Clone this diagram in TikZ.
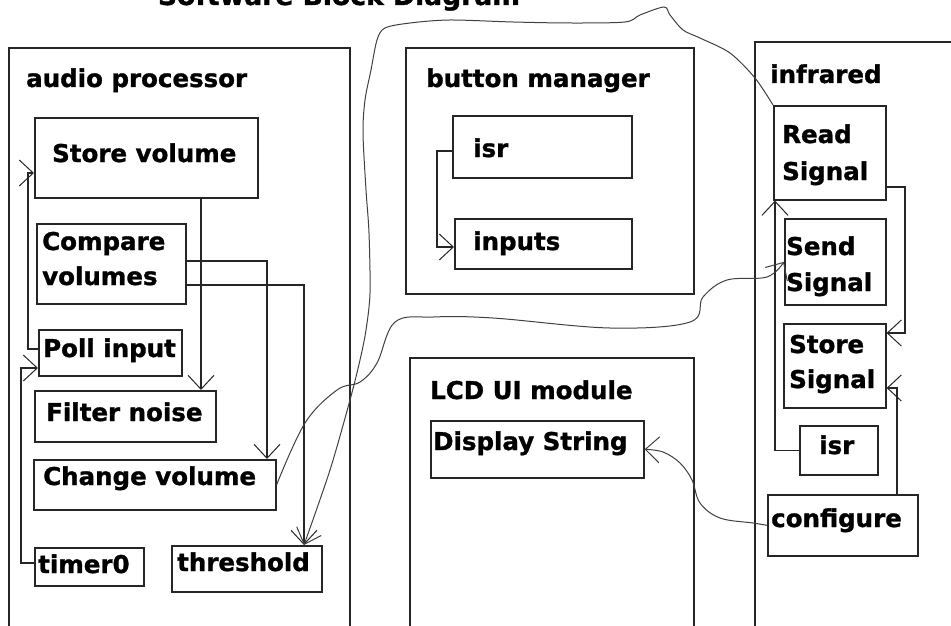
\documentclass[tikz,border=0pt]{standalone}
\usepackage{fontspec}
\setmainfont{DejaVu Sans}
\newfontfamily\heavyfont{DejaVu Sans Bold}[FakeBold=1.2]
\usetikzlibrary{arrows.meta}
\newcommand\lbfont{\fontsize{24.5}{30}\selectfont\heavyfont}
\tikzset{
  box/.style={draw=black!85, line width=1.6pt, inner sep=0pt, anchor=north west},
  lbl/.style={font=\lbfont, anchor=base west, inner sep=0pt, text=black},
  arr/.style={draw=black!85, line width=1.4pt, -{Straight Barb[length=14pt,width=26pt,line width=1pt]}},
  carr/.style={draw=black!75, line width=1pt, -{Straight Barb[length=14pt,width=26pt,line width=1pt]}}
}
\begin{document}
\begin{tikzpicture}[x=1pt,y=-1pt]
\useasboundingbox (0,0) rectangle (951,626);
% title (cut off at the top, as in the reference)
\node[font=\fontsize{26.6}{30}\selectfont\heavyfont, anchor=base, inner sep=0pt] (title) at (339,5) {Software Block Diagram};

% audio processor
\node[box, minimum width=341pt, minimum height=600pt] (ap) at (8,47) {};
\node[lbl] (apt) at (26,87) {audio processor};
\node[box, minimum width=223pt, minimum height=80pt] (sv) at (34,117) {};
\node[lbl] (svt) at (52,162) {Store volume};
\node[box, minimum width=149pt, minimum height=80pt] (cv) at (36,223) {};
\node[lbl] (cvt1) at (42,250) {Compare};
\node[lbl] (cvt2) at (42,285) {volumes};
\node[box, minimum width=143pt, minimum height=46pt] (pi) at (38,329) {};
\node[lbl] (pit) at (43,357) {Poll input};
\node[box, minimum width=181pt, minimum height=51pt] (fn) at (34,390) {};
\node[lbl] (fnt) at (46,421) {Filter noise};
\node[box, minimum width=242pt, minimum height=50pt] (chv) at (33,459) {};
\node[lbl] (chvt) at (43,485) {Change volume};
\node[box, minimum width=109pt, minimum height=38pt] (t0) at (34,547) {};
\node[lbl] (t0t) at (38,573) {timer0};
\node[box, minimum width=150pt, minimum height=46pt] (th) at (171,545) {};
\node[lbl] (tht) at (177,571) {threshold};

% button manager
\node[box, minimum width=288pt, minimum height=246pt] (bm) at (405,47) {};
\node[lbl] (bmt) at (426,87) {button manager};
\node[box, minimum width=179pt, minimum height=62pt] (bisr) at (452,115) {};
\node[lbl] (bisrt) at (473,157) {isr};
\node[box, minimum width=177pt, minimum height=50pt] (binp) at (454,218) {};
\node[lbl] (binpt) at (473,250) {inputs};

% LCD UI module
\node[box, minimum width=284pt, minimum height=290pt] (lcd) at (409,357) {};
\node[lbl] (lcdt) at (430,399) {LCD UI module};
\node[box, minimum width=213pt, minimum height=57pt] (ds) at (430,420) {};
\node[lbl] (dst) at (433,450) {Display String};

% infrared
\node[box, minimum width=220pt, minimum height=606pt] (ir) at (754,41) {};
\node[lbl] (irt) at (770,83) {infrared};
\node[box, minimum width=112pt, minimum height=94pt] (rs) at (773,105) {};
\node[lbl] (rst1) at (782,143) {Read};
\node[lbl] (rst2) at (782,180) {Signal};
\node[box, minimum width=101pt, minimum height=86pt] (ss) at (784,218) {};
\node[lbl] (sst1) at (786,255) {Send};
\node[lbl] (sst2) at (786,291) {Signal};
\node[box, minimum width=102pt, minimum height=84pt] (sts) at (783,323) {};
\node[lbl] (stst1) at (789,353) {Store};
\node[lbl] (stst2) at (789,388) {Signal};
\node[box, minimum width=78pt, minimum height=49pt] (iisr) at (799,425) {};
\node[lbl] (iisrt) at (819,454) {isr};
\node[box, minimum width=150pt, minimum height=61pt] (cf) at (767,494) {};
\node[lbl] (cft) at (771,527) {configure};

% helper coordinates
\coordinate (p1) at (201,0);
\coordinate (p2) at (267,261);
\coordinate (p3) at (304,285);
\coordinate (p4a) at (28,349);
\coordinate (p4b) at (28,173);
\coordinate (p5a) at (21,563);
\coordinate (p5b) at (21,368);
\coordinate (p7) at (775,0);
\coordinate (p8a) at (905,187);
\coordinate (p8b) at (905,333);
\coordinate (p9) at (897,388);
\coordinate (p10a) at (437,151);
\coordinate (p10b) at (437,247);

% audio processor connectors
\draw[arr] (sv.south -| p1) -- (fn.north -| p1);
\draw[arr] (cv.east |- p2) -| (chv.north -| p2);
\draw[arr] (cv.east |- p3) -| (th.north -| p3);
\draw[arr] (pi.west |- p4a) -- (p4a) -- (p4b) -- (sv.west |- p4b);
\draw[arr] (t0.west |- p5a) -- (p5a) -- (p5b) -- (pi.west |- p5b);

% button manager connector
\draw[arr] (bisr.west |- p10a) -- (p10a) -- (p10b) -- (binp.west |- p10b);

% infrared connectors
\draw[arr] (iisr.west) -| (rs.south -| p7);
\draw[arr] (rs.east |- p8a) -- (p8a) -- (p8b) -- (sts.east |- p8b);
\draw[arr] (cf.north -| p9) -- (p9) -- (sts.east |- p9);

% curved connectors
\draw[carr] plot[smooth, tension=0.6] coordinates {(chv.east) (305,423) (337,390) (360,382) (377,363) (395,322) (433,317) (493,318) (610,328) (690,322) (703,297) (727,280) (767,277) (ss.west)};
\draw[carr] plot[smooth, tension=0.5] coordinates {(rs.north west) (755,78) (730,53) (700,38) (683,30) (670,15) (664,7) (640,15) (625,22) (570,23) (513,22) (450,20) (410,23) (385,28) (377,40) (371,70) (365,100) (363,133) (366,190) (369,233) (370,293) (366,330) (360,360) (350,400) (330,470) (th.north -| p3)};
\draw[carr] plot[smooth, tension=0.6] coordinates {(cf.west) (753,523) (720,518) (700,503) (692,480) (680,463) (663,452) (ds.east)};
\end{tikzpicture}
\end{document}
